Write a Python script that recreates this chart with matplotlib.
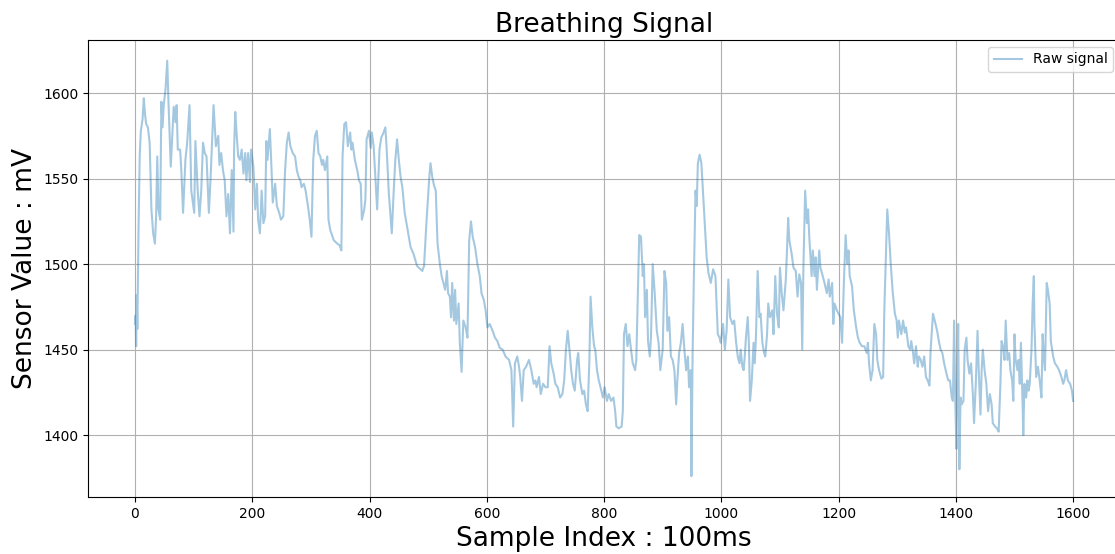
import matplotlib
matplotlib.use("Agg")
import matplotlib.pyplot as plt

# breathing sensor trace (sample index, mV)
sample_idx = [
    0, 1, 2, 3, 4, 6, 8, 10, 13, 15, 17, 19, 22, 25, 28, 31, 34, 36, 38, 40,
    43, 45, 47, 49, 52, 55, 57, 61, 63, 66, 69, 71, 73, 77, 79, 82, 86, 89, 93, 96,
    101, 103, 107, 110, 113, 116, 119, 122, 126, 129, 134, 138, 142, 144, 147, 150, 153, 156, 159, 162,
    165, 168, 169, 171, 173, 176, 179, 182, 185, 188, 190, 193, 196, 198, 202, 205, 208, 210, 213, 216,
    219, 222, 224, 226, 230, 232, 235, 239, 242, 246, 249, 253, 256, 259, 262, 265, 269, 273, 276, 279,
    282, 284, 288, 291, 295, 298, 301, 304, 307, 310, 313, 316, 319, 321, 324, 328, 330, 333, 339, 345,
    349, 352, 354, 357, 360, 363, 367, 369, 371, 375, 379, 382, 385, 387, 391, 393, 395, 399, 402, 404,
    407, 410, 413, 417, 420, 424, 427, 429, 433, 438, 441, 444, 447, 450, 453, 456, 460, 464, 470, 475,
    481, 487, 490, 493, 497, 502, 504, 507, 510, 513, 516, 520, 523, 526, 529, 532, 534, 537, 539, 541,
    544, 546, 548, 552, 554, 557, 560, 564, 567, 570, 573, 576, 580, 584, 588, 591, 595, 598, 601, 605,
    610, 614, 618, 622, 627, 632, 638, 642, 645, 648, 652, 655, 657, 660, 663, 667, 672, 676, 680, 683,
    685, 689, 692, 696, 700, 704, 707, 710, 714, 717, 721, 725, 729, 732, 735, 738, 741, 744, 747, 750,
    754, 756, 759, 763, 766, 769, 772, 775, 777, 780, 783, 785, 788, 791, 794, 798, 801, 805, 808, 812,
    816, 819, 821, 825, 830, 832, 834, 837, 840, 843, 846, 849, 853, 855, 858, 860, 863, 866, 868, 870,
    873, 875, 878, 880, 883, 886, 890, 893, 896, 900, 903, 906, 908, 911, 914, 917, 920, 923, 925, 928,
    931, 934, 937, 940, 943, 945, 948, 949, 951, 953, 956, 958, 960, 963, 966, 968, 971, 975, 978, 982,
    986, 990, 994, 997, 999, 1003, 1006, 1009, 1012, 1015, 1019, 1022, 1025, 1028, 1031, 1033, 1036, 1038, 1040, 1042,
    1045, 1047, 1049, 1052, 1055, 1057, 1059, 1062, 1065, 1067, 1070, 1073, 1075, 1078, 1080, 1083, 1087, 1089, 1092, 1095,
    1098, 1100, 1103, 1106, 1110, 1112, 1114, 1116, 1120, 1123, 1127, 1130, 1133, 1136, 1138, 1140, 1143, 1146, 1148, 1150,
    1152, 1154, 1156, 1159, 1161, 1163, 1167, 1169, 1173, 1176, 1180, 1183, 1185, 1189, 1191, 1193, 1197, 1200, 1203, 1206,
    1209, 1212, 1215, 1217, 1219, 1223, 1226, 1230, 1233, 1236, 1240, 1244, 1248, 1250, 1252, 1255, 1258, 1261, 1264, 1266,
    1269, 1273, 1276, 1278, 1281, 1283, 1286, 1289, 1292, 1296, 1299, 1301, 1303, 1307, 1310, 1313, 1315, 1319, 1322, 1324,
    1327, 1329, 1332, 1335, 1337, 1340, 1343, 1346, 1349, 1352, 1355, 1357, 1361, 1364, 1368, 1371, 1374, 1377, 1380, 1384,
    1387, 1390, 1393, 1395, 1397, 1399, 1401, 1402, 1404, 1406, 1408, 1410, 1413, 1415, 1418, 1420, 1423, 1426, 1429, 1431,
    1434, 1437, 1439, 1442, 1444, 1446, 1449, 1452, 1455, 1458, 1461, 1463, 1467, 1470, 1473, 1476, 1478, 1481, 1483, 1485,
    1488, 1491, 1493, 1496, 1498, 1500, 1502, 1505, 1507, 1509, 1511, 1514, 1515, 1517, 1520, 1522, 1524, 1526, 1529, 1531,
    1533, 1534, 1537, 1540, 1543, 1546, 1548, 1550, 1552, 1555, 1557, 1560, 1562, 1566, 1569, 1573, 1576, 1580, 1583, 1585,
    1588, 1591, 1595, 1598, 1600,
]
sensor_mv = [
    1465, 1470, 1452, 1482, 1462, 1520, 1563, 1578, 1585, 1597, 1588, 1582, 1580, 1571, 1532, 1518, 1512, 1528, 1563, 1532,
    1526, 1595, 1580, 1593, 1602, 1619, 1596, 1557, 1571, 1592, 1583, 1593, 1567, 1567, 1555, 1530, 1561, 1571, 1593, 1543,
    1530, 1572, 1543, 1528, 1543, 1571, 1565, 1563, 1530, 1551, 1593, 1569, 1575, 1558, 1565, 1555, 1549, 1528, 1541, 1518,
    1555, 1519, 1567, 1589, 1578, 1563, 1561, 1567, 1553, 1565, 1549, 1565, 1548, 1567, 1557, 1532, 1547, 1526, 1518, 1543,
    1524, 1528, 1572, 1561, 1579, 1563, 1536, 1547, 1534, 1530, 1526, 1528, 1555, 1571, 1577, 1569, 1565, 1563, 1555, 1551,
    1549, 1545, 1547, 1543, 1534, 1526, 1516, 1561, 1575, 1578, 1565, 1563, 1558, 1561, 1555, 1563, 1526, 1520, 1514, 1512,
    1511, 1508, 1563, 1582, 1583, 1569, 1577, 1567, 1571, 1561, 1555, 1549, 1547, 1526, 1532, 1538, 1573, 1578, 1568, 1577,
    1569, 1551, 1532, 1567, 1574, 1577, 1580, 1569, 1541, 1518, 1541, 1561, 1573, 1561, 1551, 1545, 1530, 1522, 1510, 1506,
    1499, 1497, 1496, 1499, 1524, 1551, 1559, 1551, 1546, 1543, 1512, 1500, 1493, 1489, 1485, 1496, 1483, 1481, 1469, 1489,
    1467, 1485, 1465, 1477, 1454, 1437, 1467, 1463, 1457, 1514, 1525, 1516, 1510, 1500, 1493, 1483, 1479, 1473, 1463, 1465,
    1461, 1457, 1455, 1451, 1450, 1446, 1444, 1438, 1405, 1442, 1446, 1440, 1434, 1420, 1438, 1440, 1444, 1438, 1430, 1432,
    1428, 1434, 1424, 1430, 1428, 1428, 1452, 1442, 1436, 1430, 1428, 1422, 1424, 1432, 1450, 1461, 1450, 1438, 1430, 1426,
    1444, 1448, 1432, 1424, 1426, 1418, 1414, 1444, 1481, 1463, 1452, 1450, 1438, 1432, 1428, 1422, 1428, 1420, 1424, 1420,
    1422, 1414, 1405, 1404, 1405, 1414, 1459, 1465, 1452, 1459, 1450, 1442, 1438, 1444, 1489, 1517, 1516, 1493, 1500, 1469,
    1485, 1455, 1446, 1457, 1500, 1485, 1461, 1454, 1438, 1450, 1496, 1489, 1461, 1469, 1446, 1444, 1438, 1418, 1432, 1448,
    1454, 1465, 1450, 1438, 1446, 1428, 1438, 1376, 1446, 1489, 1543, 1534, 1559, 1564, 1559, 1547, 1528, 1504, 1495, 1489,
    1497, 1493, 1459, 1457, 1454, 1465, 1450, 1461, 1491, 1469, 1465, 1467, 1455, 1446, 1442, 1450, 1440, 1438, 1446, 1457,
    1469, 1454, 1420, 1432, 1454, 1442, 1457, 1496, 1469, 1471, 1454, 1448, 1446, 1459, 1477, 1469, 1473, 1459, 1493, 1471,
    1463, 1498, 1483, 1473, 1491, 1508, 1527, 1514, 1506, 1498, 1496, 1481, 1494, 1489, 1450, 1498, 1543, 1524, 1532, 1516,
    1504, 1493, 1508, 1493, 1504, 1485, 1508, 1498, 1493, 1489, 1483, 1491, 1481, 1489, 1465, 1477, 1473, 1471, 1469, 1454,
    1489, 1517, 1500, 1508, 1493, 1487, 1473, 1463, 1457, 1454, 1452, 1452, 1448, 1454, 1442, 1432, 1438, 1465, 1459, 1444,
    1438, 1433, 1434, 1473, 1508, 1532, 1518, 1500, 1485, 1471, 1467, 1457, 1467, 1459, 1467, 1460, 1463, 1452, 1450, 1455,
    1448, 1442, 1452, 1440, 1446, 1444, 1440, 1446, 1434, 1432, 1429, 1450, 1471, 1467, 1461, 1455, 1450, 1448, 1442, 1436,
    1432, 1432, 1422, 1420, 1467, 1420, 1392, 1422, 1465, 1380, 1422, 1418, 1420, 1450, 1457, 1444, 1436, 1442, 1424, 1407,
    1430, 1461, 1438, 1412, 1438, 1450, 1438, 1430, 1414, 1424, 1418, 1407, 1405, 1404, 1402, 1430, 1455, 1451, 1444, 1467,
    1444, 1448, 1438, 1432, 1420, 1459, 1444, 1438, 1444, 1430, 1454, 1416, 1400, 1430, 1422, 1432, 1426, 1430, 1450, 1477,
    1493, 1465, 1434, 1440, 1432, 1422, 1459, 1446, 1438, 1489, 1485, 1477, 1455, 1446, 1442, 1440, 1438, 1434, 1430, 1432,
    1438, 1432, 1430, 1426, 1420,
]

fig = plt.figure(figsize=(11.15, 5.54), dpi=100)
ax = fig.add_subplot(111)
# the original was cropped: the right spine sits just past the image edge
fig.subplots_adjust(left=0.079, right=1.0045, top=0.928, bottom=0.103)

ax.plot(sample_idx, sensor_mv, color="#1f77b4", alpha=0.4, linewidth=1.5,
        label="Raw signal")
ax.set_title("Breathing Signal", fontsize=19)
ax.set_xlabel("Sample Index : 100ms", fontsize=19)
ax.set_ylabel("Sensor Value : mV", fontsize=19)
ax.grid(True)
ax.legend(loc="upper right")

fig.savefig("out.png", dpi=100)
